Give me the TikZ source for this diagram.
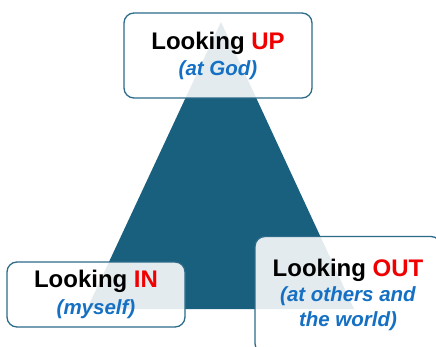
\documentclass[tikz,border=0pt]{standalone}
\usepackage{fontspec}
\setmainfont{Liberation Sans}
\usepackage{tikz}
\usetikzlibrary{positioning}

\definecolor{tealdark}{HTML}{195F7E}
\definecolor{boxline}{HTML}{2C6B8A}
\definecolor{upred}{HTML}{F00000}
\definecolor{subblue}{HTML}{1570C4}

\tikzset{
  lookbox/.style={draw=boxline, line width=1.3pt, rounded corners=10pt,
    fill=white, fill opacity=0.88, text opacity=1, align=center,
    font=\fontsize{24}{28}\selectfont\bfseries, inner sep=0pt},
}
\newcommand{\sub}[1]{{\color{subblue}\fontsize{20.5}{26}\selectfont\itshape #1}}
\newcommand{\dir}[1]{{\color{upred}#1}}

\begin{document}
\begin{tikzpicture}[x=1pt,y=-1pt]

        % Rahmen und Zuschnitt
        \useasboundingbox (0,0) rectangle (436,347);
        \clip (0,0) rectangle (436,347);

        % Dreieck
        \fill[tealdark] (221,22) -- (354,309) -- (87,309) -- cycle;

        % Kaesten
        \node[lookbox, minimum width=188pt, minimum height=85pt] (up) at (218,55.5)
          {Looking \dir{UP}\\[-2pt] \sub{(at God)}};
        \node[lookbox, minimum width=178pt, minimum height=65pt] (in) at (96,294.5)
          {Looking \dir{IN}\\[-1pt] \sub{(myself)}};
        \node[lookbox, minimum width=186pt, minimum height=117pt] (out) at (348,295)
          {Looking \dir{OUT}\\[-3pt] \sub{(at others and}\\[-3pt] \sub{the world)}};

\end{tikzpicture}
\end{document}
